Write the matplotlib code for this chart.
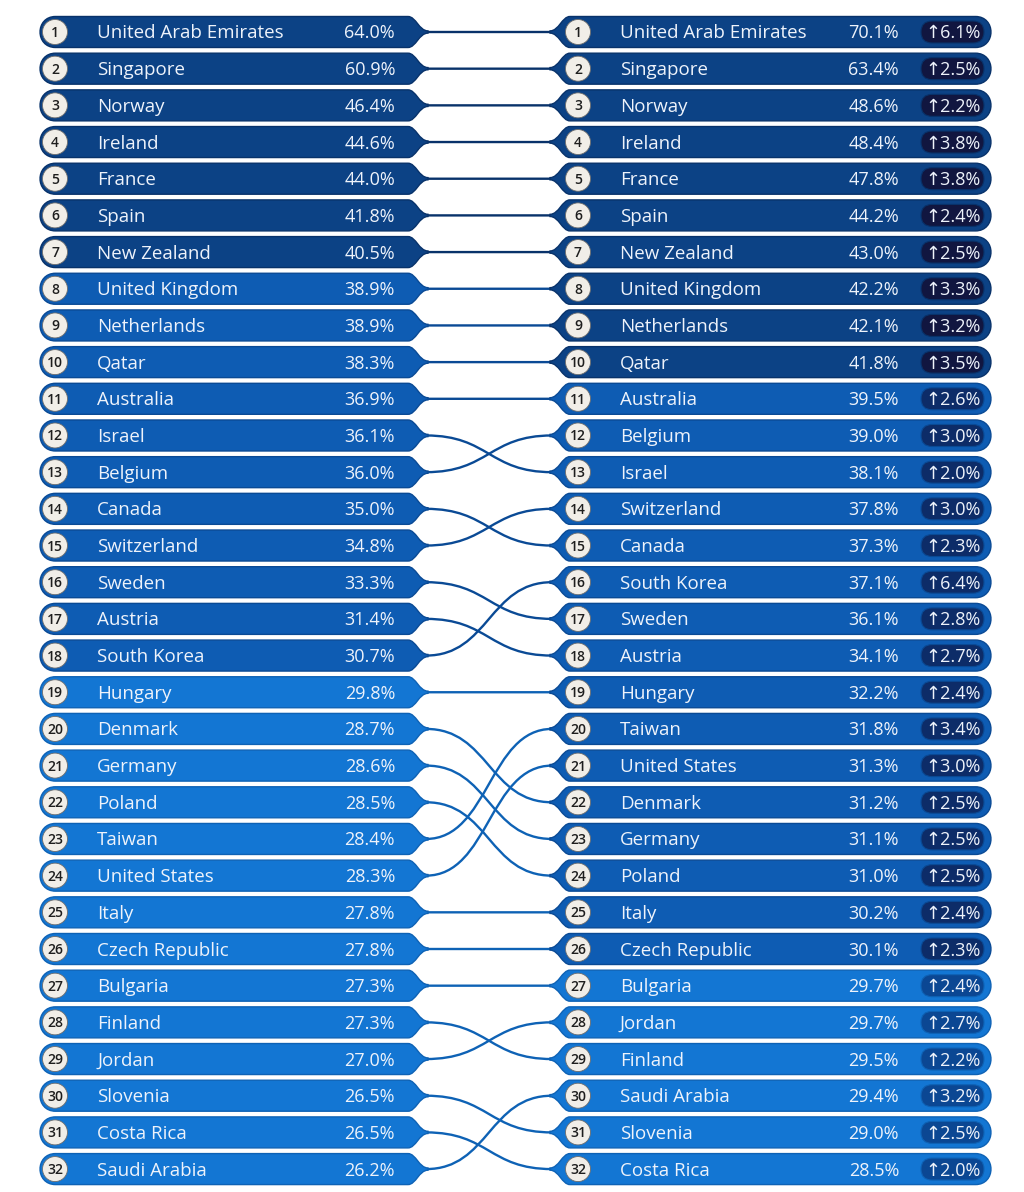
import numpy as np
import matplotlib.pyplot as plt
from matplotlib.path import Path
from matplotlib.patches import PathPatch, Circle, FancyBboxPatch

plt.rcParams['font.family'] = ['Open Sans', 'DejaVu Sans']

# left column (earlier ranking)
left_names = ["United Arab Emirates", "Singapore", "Norway", "Ireland", "France", "Spain",
              "New Zealand", "United Kingdom", "Netherlands", "Qatar", "Australia", "Israel",
              "Belgium", "Canada", "Switzerland", "Sweden", "Austria", "South Korea", "Hungary",
              "Denmark", "Germany", "Poland", "Taiwan", "United States", "Italy",
              "Czech Republic", "Bulgaria", "Finland", "Jordan", "Slovenia", "Costa Rica",
              "Saudi Arabia"]
left_values = [64.0, 60.9, 46.4, 44.6, 44.0, 41.8, 40.5, 38.9, 38.9, 38.3, 36.9, 36.1,
               36.0, 35.0, 34.8, 33.3, 31.4, 30.7, 29.8, 28.7, 28.6, 28.5, 28.4, 28.3,
               27.8, 27.8, 27.3, 27.3, 27.0, 26.5, 26.5, 26.2]

# right column (later ranking)
right_names = ["United Arab Emirates", "Singapore", "Norway", "Ireland", "France", "Spain",
               "New Zealand", "United Kingdom", "Netherlands", "Qatar", "Australia", "Belgium",
               "Israel", "Switzerland", "Canada", "South Korea", "Sweden", "Austria", "Hungary",
               "Taiwan", "United States", "Denmark", "Germany", "Poland", "Italy",
               "Czech Republic", "Bulgaria", "Jordan", "Finland", "Saudi Arabia", "Slovenia",
               "Costa Rica"]
right_values = [70.1, 63.4, 48.6, 48.4, 47.8, 44.2, 43.0, 42.2, 42.1, 41.8, 39.5, 39.0,
                38.1, 37.8, 37.3, 37.1, 36.1, 34.1, 32.2, 31.8, 31.3, 31.2, 31.1, 31.0,
                30.2, 30.1, 29.7, 29.7, 29.5, 29.4, 29.0, 28.5]
right_change = [6.1, 2.5, 2.2, 3.8, 3.8, 2.4, 2.5, 3.3, 3.2, 3.5, 2.6, 3.0,
                2.0, 3.0, 2.3, 6.4, 2.8, 2.7, 2.4, 3.4, 3.0, 2.5, 2.5, 2.5,
                2.4, 2.3, 2.4, 2.7, 2.2, 3.2, 2.5, 2.0]

Y0, STEP, H = 32.0, 36.68, 31.0
TXT = "#eef3fb"
DY = 1.5  # nudge text to optical centre


def bar_color(v):
    if v >= 40:
        return "#0c4285"
    if v >= 30:
        return "#0e5cb3"
    return "#1376d3"


def edge_color(v):
    if v >= 40:
        return "#08326a"
    if v >= 30:
        return "#0a4a95"
    return "#0e62b5"


def badge_color(v):
    if v >= 40:
        return "#111640"
    if v >= 30:
        return "#0d2c68"
    return "#0b4793"


def left_shape(x0, x1, tip, cy):
    r = H / 2
    top, bot = cy - r, cy + r
    t = 1.1
    verts = [(x0 + r, top), (x1, top),
             (x1 + 8, top), (x1 + 11, cy - t), (tip, cy - t),
             (tip, cy + t),
             (x1 + 11, cy + t), (x1 + 8, bot), (x1, bot),
             (x0 + r, bot),
             (x0 + r - r * 1.33, bot), (x0 + r - r * 1.33, top), (x0 + r, top),
             (x0 + r, top)]
    codes = [Path.MOVETO, Path.LINETO,
             Path.CURVE4, Path.CURVE4, Path.CURVE4,
             Path.LINETO,
             Path.CURVE4, Path.CURVE4, Path.CURVE4,
             Path.LINETO,
             Path.CURVE4, Path.CURVE4, Path.CURVE4,
             Path.CLOSEPOLY]
    return Path(verts, codes)


def right_shape(tip, x0, x1, cy):
    r = H / 2
    top, bot = cy - r, cy + r
    t = 1.1
    verts = [(tip, cy - t),
             (x0 - 11, cy - t), (x0 - 8, top), (x0, top),
             (x1 - r, top),
             (x1 - r + r * 1.33, top), (x1 - r + r * 1.33, bot), (x1 - r, bot),
             (x0, bot),
             (x0 - 8, bot), (x0 - 11, cy + t), (tip, cy + t),
             (tip, cy - t)]
    codes = [Path.MOVETO,
             Path.CURVE4, Path.CURVE4, Path.CURVE4,
             Path.LINETO,
             Path.CURVE4, Path.CURVE4, Path.CURVE4,
             Path.LINETO,
             Path.CURVE4, Path.CURVE4, Path.CURVE4,
             Path.CLOSEPOLY]
    return Path(verts, codes)


fig = plt.figure(figsize=(10.24, 11.92), dpi=100)
ax = fig.add_axes([0, 0, 1, 1])
ax.set_xlim(0, 1024)
ax.set_ylim(1192, 0)
ax.axis("off")

LX0, LX1, LTIP = 40, 408, 428
RTIP, RX0, RX1 = 550, 570, 991

# connectors
for i, name in enumerate(left_names):
    j = right_names.index(name)
    ya, yb = Y0 + i * STEP, Y0 + j * STEP
    xm = (LTIP + RTIP) / 2
    p = Path([(LTIP - 2, ya), (xm, ya), (xm, yb), (RTIP + 2, yb)],
             [Path.MOVETO, Path.CURVE4, Path.CURVE4, Path.CURVE4])
    ax.add_patch(PathPatch(p, fc="none", ec=edge_color(left_values[i]), lw=1.7, zorder=1))

for i, (name, v) in enumerate(zip(left_names, left_values)):
    cy = Y0 + i * STEP
    ax.add_patch(PathPatch(left_shape(LX0, LX1, LTIP, cy), fc=bar_color(v),
                           ec=edge_color(v), lw=1.0, zorder=2))
    ax.add_patch(Circle((55, cy), 12.5, fc="#f1eee8", ec="#6d6d6d", lw=0.6, zorder=3))
    ax.text(55, cy + 1, str(i + 1), ha="center", va="center", fontsize=10,
            color="#1e1e1e", fontweight="semibold", zorder=4)
    ax.text(97, cy + DY, name, ha="left", va="center", fontsize=13.5, color=TXT, zorder=4)
    ax.text(395, cy + DY, f"{v:.1f}%", ha="right", va="center", fontsize=13, color=TXT,
            zorder=4)

for i, (name, v, d) in enumerate(zip(right_names, right_values, right_change)):
    cy = Y0 + i * STEP
    ax.add_patch(PathPatch(right_shape(RTIP, RX0, RX1, cy), fc=bar_color(v),
                           ec=edge_color(v), lw=1.0, zorder=2))
    ax.add_patch(Circle((578, cy), 12.5, fc="#f1eee8", ec="#6d6d6d", lw=0.6, zorder=3))
    ax.text(578, cy + 1, str(i + 1), ha="center", va="center", fontsize=10,
            color="#1e1e1e", fontweight="semibold", zorder=4)
    ax.text(620, cy + DY, name, ha="left", va="center", fontsize=13.5, color=TXT, zorder=4)
    ax.text(899, cy + DY, f"{v:.1f}%", ha="right", va="center", fontsize=13, color=TXT,
            zorder=4)
    ax.add_patch(FancyBboxPatch((921, cy - 11), 63, 22,
                                boxstyle="round,pad=0,rounding_size=11",
                                fc=badge_color(v), ec=edge_color(v), lw=0.8, zorder=3))
    ax.text(953, cy + DY, f"\u2191{d:.1f}%", ha="center", va="center", fontsize=13,
            color=TXT, zorder=4)

fig.savefig("out.png", dpi=100)
